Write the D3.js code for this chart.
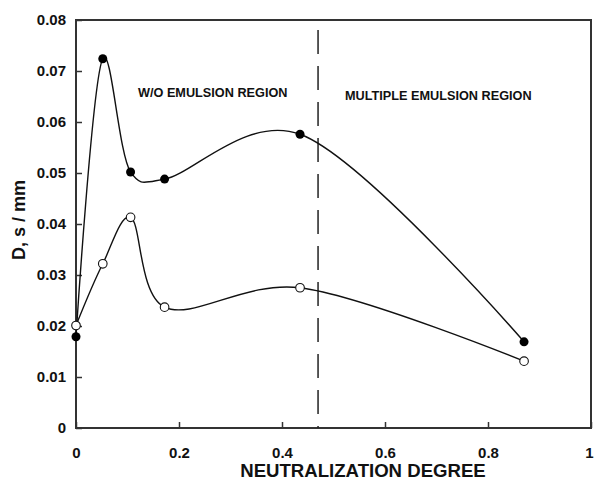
<!DOCTYPE html>
<meta charset="utf-8">
<style>
	body {
		margin: 0;
		background: #fff;
		font-family: "Liberation Sans", Arial, sans-serif;
	}

	.tick text {
		font-size: 15px;
		font-weight: bold;
		fill: #111;
	}

	.label {
		font-weight: bold;
		fill: #111;
	}
</style>

<body>
	<script src="https://d3js.org/d3.v7.min.js"></script>
	<script>
		// neutralization degree
		var xFilled = [0, 0.052, 0.106, 0.172, 0.435, 0.87];
		var yFilled = [0.0179, 0.0724, 0.0502, 0.0488, 0.0576, 0.0169];
		var xOpen = [0, 0.052, 0.106, 0.172, 0.435, 0.87];
		var yOpen = [0.0201, 0.0322, 0.0413, 0.0237, 0.0275, 0.0131];
		var xTicks = [0, 0.2, 0.4, 0.6, 0.8, 1];
		var yTicks = [0, 0.01, 0.02, 0.03, 0.04, 0.05, 0.06, 0.07, 0.08];
		var boundary = 0.47;

		var margin = { top: 20, right: 3, bottom: 53, left: 76 },
			width = 594 - margin.left - margin.right,
			height = 481 - margin.top - margin.bottom;

		var x = d3.scaleLinear().domain([0, 1]).range([0, width]);
		var y = d3.scaleLinear().domain([0, 0.08]).range([height, 0]);

		var svg = d3.select("body").append("svg")
			.attr("width", 594)
			.attr("height", 481)
			.append("g")
			.attr("transform", "translate(" + margin.left + "," + margin.top + ")");

		// frame
		svg.append("rect")
			.attr("width", width)
			.attr("height", height)
			.attr("fill", "none")
			.attr("stroke", "#333")
			.attr("stroke-width", 2);

		var xAxis = d3.axisBottom(x).tickValues(xTicks)
			.tickSize(-6).tickPadding(16)
			.tickFormat(function(d) { return d === 0 || d === 1 ? d : d3.format(".1f")(d); });
		var yAxis = d3.axisLeft(y).tickValues(yTicks)
			.tickSize(-6).tickPadding(16)
			.tickFormat(function(d) { return d === 0 ? "0" : d3.format(".2f")(d); });

		svg.append("g")
			.attr("transform", "translate(0," + height + ")")
			.call(xAxis)
			.call(function(g) { g.select(".domain").remove(); })
			.call(function(g) { g.selectAll(".tick line").attr("stroke", "#333").attr("stroke-width", 1.5); })
			.call(function(g) { g.selectAll(".tick text").attr("dy", "0.95em").style("font-family", "Liberation Sans, Arial, sans-serif"); })
			.call(function(g) { g.selectAll(".tick text").filter(function(d) { return d === 1; }).attr("dx", "-2"); });

		svg.append("g")
			.call(yAxis)
			.call(function(g) { g.select(".domain").remove(); })
			.call(function(g) { g.selectAll(".tick line").attr("stroke", "#333").attr("stroke-width", 1.5); })
			.call(function(g) { g.selectAll(".tick text").attr("dx", "6").style("font-family", "Liberation Sans, Arial, sans-serif"); });

		// region boundary
		svg.append("line")
			.attr("x1", x(boundary)).attr("x2", x(boundary))
			.attr("y1", 0).attr("y2", height)
			.attr("stroke", "#222")
			.attr("stroke-width", 1.5)
			.attr("stroke-dasharray", "24,12")
			.attr("stroke-dashoffset", -10);

		var line = d3.line()
			.x(function(d) { return x(d[0]); })
			.y(function(d) { return y(d[1]); })
			.curve(d3.curveCatmullRom.alpha(0.2));

		var filled = d3.zip(xFilled, yFilled);
		var open = d3.zip(xOpen, yOpen);

		svg.append("path").datum(filled)
			.attr("d", line).attr("fill", "none")
			.attr("stroke", "#111").attr("stroke-width", 1.4);

		svg.append("path").datum(open)
			.attr("d", line).attr("fill", "none")
			.attr("stroke", "#111").attr("stroke-width", 1.4);

		svg.selectAll(".dotf")
			.data(filled)
			.enter().append("circle")
			.attr("class", "dotf")
			.attr("r", 4.5)
			.attr("cx", function(d) { return x(d[0]); })
			.attr("cy", function(d) { return y(d[1]); })
			.attr("fill", "#000");

		svg.selectAll(".doto")
			.data(open)
			.enter().append("circle")
			.attr("class", "doto")
			.attr("r", 4.3)
			.attr("cx", function(d) { return x(d[0]); })
			.attr("cy", function(d) { return y(d[1]); })
			.attr("fill", "#fff")
			.attr("stroke", "#111")
			.attr("stroke-width", 1.1);

		// annotations
		svg.append("text").attr("class", "label")
			.attr("x", 138 - margin.left).attr("y", 97 - margin.top)
			.style("font-size", "12.7px")
			.text("W/O EMULSION REGION");

		svg.append("text").attr("class", "label")
			.attr("x", 345 - margin.left).attr("y", 100 - margin.top)
			.style("font-size", "12.7px")
			.text("MULTIPLE EMULSION REGION");

		svg.append("text").attr("class", "label")
			.attr("x", 363 - margin.left).attr("y", 477 - margin.top)
			.attr("text-anchor", "middle")
			.style("font-size", "18.6px")
			.text("NEUTRALIZATION DEGREE");

		svg.append("text").attr("class", "label")
			.attr("transform", "translate(" + (25 - margin.left) + "," + (220 - margin.top) + ") rotate(-90)")
			.attr("text-anchor", "middle")
			.style("font-size", "18px")
			.text("D, s / mm");
	</script>
</body>
